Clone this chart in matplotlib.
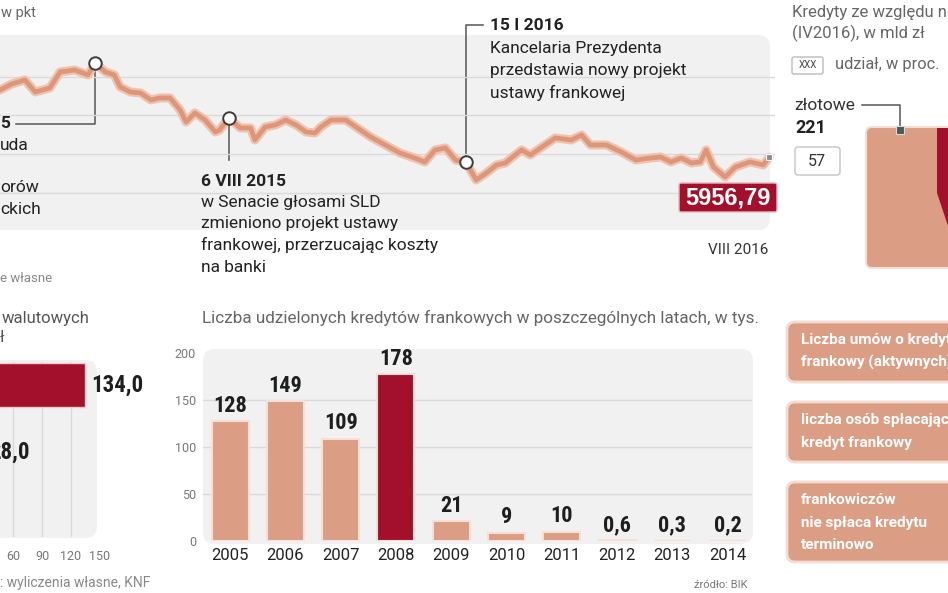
import matplotlib
matplotlib.use("Agg")
import matplotlib.pyplot as plt
import matplotlib.dates as mdates
import pandas as pd
from matplotlib import font_manager as fm
from matplotlib.font_manager import FontProperties
from matplotlib.patches import FancyBboxPatch, Polygon, Rectangle

# --- data -------------------------------------------------------------
wig_dates = ['2015-03-03', '2015-03-11', '2015-03-20', '2015-03-27', '2015-04-06', '2015-04-13',
             '2015-04-23', '2015-05-02', '2015-05-07', '2015-05-14', '2015-05-20', '2015-05-24',
             '2015-05-31', '2015-06-07', '2015-06-14', '2015-06-20', '2015-06-27', '2015-07-04',
             '2015-07-08', '2015-07-14', '2015-07-21', '2015-07-28', '2015-07-31', '2015-08-06',
             '2015-08-14', '2015-08-21', '2015-08-24', '2015-08-31', '2015-09-07', '2015-09-14',
             '2015-09-21', '2015-09-28', '2015-10-04', '2015-10-08', '2015-10-15', '2015-10-25',
             '2015-11-01', '2015-11-11', '2015-11-21', '2015-12-01', '2015-12-11', '2015-12-18',
             '2015-12-25', '2016-01-01', '2016-01-08', '2016-01-15', '2016-01-22', '2016-01-29',
             '2016-02-05', '2016-02-11', '2016-02-15', '2016-02-22', '2016-02-28', '2016-03-06',
             '2016-03-16', '2016-03-27', '2016-04-03', '2016-04-09', '2016-04-20', '2016-04-30',
             '2016-05-10', '2016-05-20', '2016-05-27', '2016-06-03', '2016-06-10', '2016-06-17',
             '2016-06-23', '2016-06-27', '2016-07-02', '2016-07-10', '2016-07-17', '2016-07-27',
             '2016-08-05', '2016-08-09']
wig_values = [6827, 6904, 6956, 6801, 6853, 7059, 7085, 7021, 7170, 7059, 7021, 6866,
              6801, 6788, 6698, 6724, 6724, 6568, 6413, 6530, 6439, 6284, 6310, 6465,
              6336, 6336, 6181, 6349, 6375, 6439, 6375, 6284, 6271, 6349, 6439, 6439,
              6349, 6220, 6116, 6013, 5948, 5897, 6052, 6078, 5922, 5897, 5664, 5755,
              5858, 5884, 5948, 6052, 5987, 6078, 6207, 6181, 6245, 6116, 6116, 6026,
              5922, 5948, 5961, 5897, 5948, 5884, 5897, 6052, 5832, 5703, 5832, 5897,
              5858, 5956.79]
event_dates = ['2015-05-07', '2015-08-06', '2016-01-15']

years = ['2005', '2006', '2007', '2008', '2009', '2010', '2011', '2012', '2013', '2014']
loans = [128, 149, 109, 178, 21, 9, 10, 0.6, 0.3, 0.2]
peak_year = '2008'

fx_names = ['CHF', 'EUR']
fx_values = [134.0, 28.0]

SALMON = '#dc9d85'
DARKRED = '#a3102c'
LINE = '#de967a'
PANEL = '#f1f1f1'
GRID = '#dadada'

W, H = 948, 593


def frac(x0, y0, x1, y1):
    return [x0 / W, 1 - y1 / H, (x1 - x0) / W, (y1 - y0) / H]


def fmt(v):
    return f"{v:.1f}".replace('.', ',') if v < 1 else f"{v:.0f}"


def narrow_bold_path():
    # look for a condensed bold face among the installed fonts
    prio = ['Liberation Sans Narrow', 'Roboto Condensed', 'Open Sans Condensed',
            'DejaVu Sans Condensed', 'DejaVu Sans', 'Noto Sans']
    best = None
    for f in fm.fontManager.ttflist:
        w = f.weight
        bold = (isinstance(w, int) and w >= 600) or str(w).lower() in ('bold', 'semibold', 'demibold', 'heavy')
        narrow = ('Narrow' in f.name or 'Condensed' in f.name or 'Condensed' in f.fname
                  or str(f.stretch) in ('condensed', 'semi-condensed'))
        if bold and narrow and 'Oblique' not in f.fname and 'Italic' not in f.fname:
            rank = prio.index(f.name) if f.name in prio else len(prio)
            if best is None or rank < best[0]:
                best = (rank, f.fname)
    return best[1] if best else None


plt.rcParams['font.family'] = ['Roboto', 'DejaVu Sans']
_np = narrow_bold_path()
if _np:
    NUM = FontProperties(fname=_np, size=16)
    NUM_H = FontProperties(fname=_np, size=16.5)
else:
    NUM = FontProperties(family='Roboto', weight='bold', size=13.5)
    NUM_H = FontProperties(family='Roboto', weight='bold', size=13.5)

fig = plt.figure(figsize=(W / 100, H / 100), dpi=100, facecolor='white')

bg = fig.add_axes([0, 0, 1, 1], zorder=0)
bg.set_xlim(0, W)
bg.set_ylim(H, 0)
bg.axis('off')
fg = fig.add_axes([0, 0, 1, 1], zorder=5)
fg.set_xlim(0, W)
fg.set_ylim(H, 0)
fg.axis('off')


def panel(ax, x, y, w, h, fc=PANEL, ec='none', r=12, lw=0, z=1):
    ax.add_patch(FancyBboxPatch((x, y), w, h, boxstyle=f"round,pad=0,rounding_size={r}",
                                fc=fc, ec=ec, lw=lw, zorder=z))


def to_px(ax, x, y):
    dx, dy = ax.transData.transform((x, y))
    return dx, H - dy


# --- top line chart -----------------------------------------------------
d = pd.to_datetime(wig_dates)
s = pd.Series(wig_values, index=d)
ev = pd.to_datetime(event_dates)

panel(bg, -20, 35, 790, 195)
ax_line = fig.add_axes(frac(0, 35, 775, 230), zorder=2)
ax_line.set_facecolor('none')
ax_line.set_xlim(pd.Timestamp('2015-03-03'), pd.Timestamp('2016-08-13'))
ax_line.set_ylim(5018, 7537)
ax_line.set_yticks([5500, 6000, 6500, 7000])
ax_line.grid(axis='y', color=GRID, lw=1)
ax_line.tick_params(length=0, labelleft=False, labelbottom=False)
ax_line.set_xticks([])
for sp in ax_line.spines.values():
    sp.set_visible(False)
ax_line.plot(d, wig_values, color='#efc3ae', lw=6.5, solid_capstyle='round', zorder=3)
ax_line.plot(d, wig_values, color=LINE, lw=3.4, zorder=4)
ax_line.plot(ev, s[ev].values, 'o', ms=9, mfc='white', mec='#3c3c3c', mew=1.4, zorder=6)
ax_line.plot(d[-1:], wig_values[-1:], 's', ms=4.5, color='#8c8c8c', mec='white', mew=0.8, zorder=6)

# leader lines
pts = [to_px(ax_line, mdates.date2num(t), v) for t, v in zip(ev, s[ev].values)]
lc = dict(color='#555555', lw=1.1, zorder=3)
bg.plot([pts[0][0], pts[0][0], 16], [pts[0][1], 124, 124], **lc)
bg.plot([pts[1][0], pts[1][0]], [pts[1][1], 160], **lc)
bg.plot([pts[2][0], pts[2][0], 483], [pts[2][1], 25, 25], **lc)

txt = dict(color='#222222', fontsize=12.5, va='center', ha='left')
fg.text(1, 13, 'w pkt', color='#666666', fontsize=10.5, va='center')
fg.text(0, 124, '5', fontweight='bold', **txt)
fg.text(0, 145, 'uda', **txt)
fg.text(0, 187, 'orów', **txt)
fg.text(0, 210, 'ckich', **txt)

fg.text(201, 181, '6 VIII 2015', fontweight='bold', **txt)
for i, line in enumerate(['w Senacie głosami SLD', 'zmieniono projekt ustawy',
                          'frankowej, przerzucając koszty', 'na banki']):
    fg.text(201, 202 + 21.7 * i, line, **txt)

fg.text(490, 25, '15 I 2016', fontweight='bold', **txt)
for i, line in enumerate(['Kancelaria Prezydenta', 'przedstawia nowy projekt', 'ustawy frankowej']):
    fg.text(490, 48 + 22.5 * i, line, **txt)

panel(fg, 679, 183, 98, 29, fc=DARKRED, ec='#e9b9c0', lw=1, r=2)
fg.text(728, 198, f"{wig_values[-1]:.2f}".replace('.', ','), color='white', fontsize=17,
        fontweight='bold', family=['Liberation Sans', 'DejaVu Sans'], ha='center', va='center', zorder=6)
fg.text(768, 250, 'VIII 2016', color='#333333', fontsize=11, ha='right', va='center')
fg.text(0, 278, 'e własne', color='#888888', fontsize=9.5, va='center')

# --- top right fragment ---------------------------------------------------
fg.text(792, 12, 'Kredyty ze względu na', color='#666666', fontsize=12, va='center')
fg.text(792, 33, '(IV2016), w mld zł', color='#666666', fontsize=12, va='center')
panel(fg, 792, 57, 31, 17, fc='white', ec='#bbbbbb', lw=1, r=2)
fg.text(807.5, 65.5, 'XXX', color='#444444', fontsize=7, ha='center', va='center')
fg.text(835, 65, 'udział, w proc.', color='#666666', fontsize=11.8, va='center')
fg.text(794, 105, 'złotowe', color='#333333', fontsize=12.5, va='center')
fg.text(795, 128, '221', color='#222222', fontsize=13, fontweight='bold', va='center')
panel(fg, 795, 147, 45, 28, fc='white', ec='#c4c4c4', lw=1, r=3)
fg.text(817, 161, '57', color='#333333', fontsize=11.5, ha='center', va='center')
panel(bg, 866, 127, 100, 141, fc=SALMON, ec='#f4ddd3', lw=1.5, r=6, z=2)
bg.add_patch(Polygon([(937, 128), (937, 193), (949, 229), (949, 128)], closed=True,
                     fc=DARKRED, ec='none', zorder=3))
fg.plot([862, 900, 900], [105, 105, 126], color='#555555', lw=1.1)
fg.add_patch(Rectangle((896, 126), 8, 8, fc='#4a5a55', ec='#d9d9d9', lw=0.8, zorder=6))

# --- bottom left horizontal bars --------------------------------------------
fg.text(2, 319, 'walutowych', color='#555555', fontsize=12, va='center')
fg.text(0, 338, 'ł', color='#555555', fontsize=12, va='center')
panel(bg, -20, 360, 117, 178)
ax_h = fig.add_axes(frac(0, 362, 100, 537), zorder=2)
ax_h.set_facecolor('none')
ax_h.set_xlim(46.5, 150)
ax_h.set_ylim(2.27, -0.343)
for v in [60, 90, 120]:
    ax_h.axvline(v, color=GRID, lw=1, zorder=0)
ax_h.barh(range(len(fx_values)), fx_values, height=0.66, color=[DARKRED, SALMON],
          edgecolor='#f0c9cf', lw=1, zorder=2)
for i, v in enumerate(fx_values):
    ax_h.annotate(f"{v:.1f}".replace('.', ','), (v, i), xytext=(5, 0), textcoords='offset points',
                  fontproperties=NUM_H, color='#1e1e1e',
                  va='center', ha='left', annotation_clip=False)
ax_h.set_xticks([60, 90, 120, 150])
ax_h.set_yticks([])
ax_h.tick_params(axis='x', length=0, pad=9, labelsize=9, labelcolor='#777777')
for sp in ax_h.spines.values():
    sp.set_visible(False)
fg.text(0, 583, ': wyliczenia własne, KNF', color='#888888', fontsize=10, va='center')

# --- bottom middle vertical bars --------------------------------------------
fg.text(202, 318, 'Liczba udzielonych kredytów frankowych w poszczególnych latach, w tys.',
        color='#666666', fontsize=12.3, va='center')
panel(bg, 203, 349, 550, 195)
ax_b = fig.add_axes(frac(203, 350, 752, 541), zorder=2)
ax_b.set_facecolor('none')
ax_b.set_xlim(-0.49, 9.44)
ax_b.set_ylim(0, 203.2)
for v in [50, 100, 150]:
    ax_b.axhline(v, color=GRID, lw=1, zorder=0)
colors = [DARKRED if y == peak_year else SALMON for y in years]
ax_b.bar(range(len(years)), loans, width=0.67, color=colors, edgecolor='#f6e0d6', lw=1.5, zorder=2)
for i, v in enumerate(loans):
    ax_b.annotate(fmt(v), (i, v), xytext=(0, 3), textcoords='offset points', fontproperties=NUM,
                  color='#1e1e1e', ha='center', va='bottom')
ax_b.set_xticks(range(len(years)))
ax_b.set_xticklabels(years)
ax_b.set_yticks([0, 50, 100, 150, 200])
ax_b.tick_params(axis='x', length=0, pad=5, labelsize=12, labelcolor='#222222')
ax_b.tick_params(axis='y', length=0, pad=5, labelsize=9, labelcolor='#777777')
for sp in ax_b.spines.values():
    sp.set_visible(False)
fg.text(748, 585, 'źródło: BIK', color='#777777', fontsize=8, ha='right', va='center')

# --- right boxes -------------------------------------------------------------
boxes = [(322, 60, ['Liczba umów o kredyt', 'frankowy (aktywnych)']),
         (402, 60, ['liczba osób spłacających', 'kredyt frankowy']),
         (482, 80, ['frankowiczów', 'nie spłaca kredytu', 'terminowo'])]
for y0, h, lines in boxes:
    panel(bg, 787, y0, 180, h, fc=SALMON, ec='#f3dcd2', lw=2, r=8, z=2)
    for i, line in enumerate(lines):
        fg.text(801, y0 + 18 + 22.5 * i, line, color='white', fontsize=11, fontweight='bold',
                va='center')

fig.savefig('out.png', dpi=100, facecolor='white')
